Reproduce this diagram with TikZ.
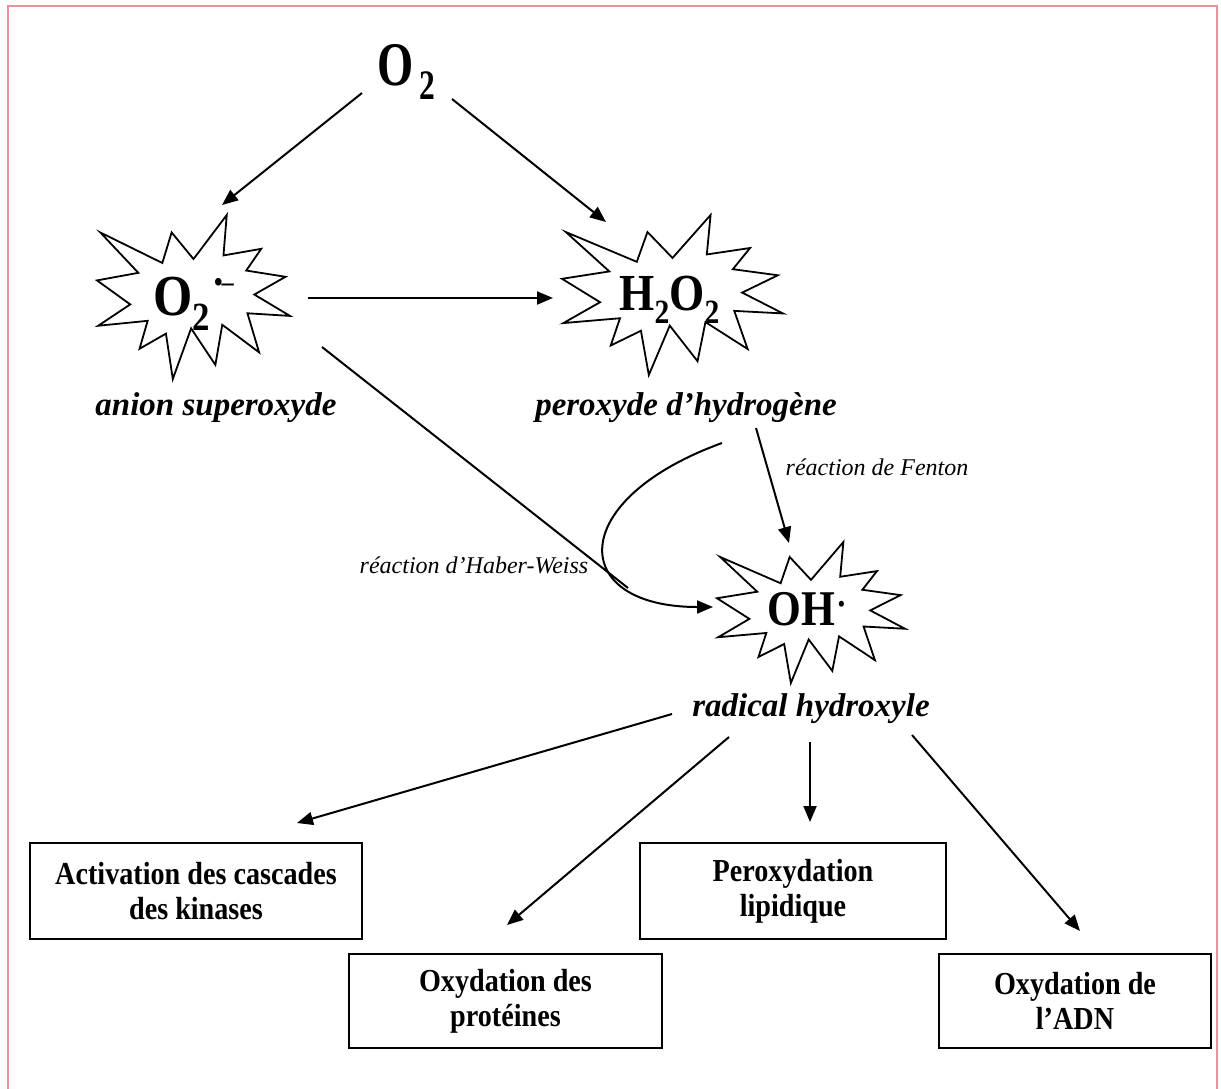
\documentclass[tikz,border=0pt]{standalone}
\usepackage{fontspec}
\setmainfont{Liberation Serif}
\newfontfamily\narrowfont{Liberation Serif}[FakeStretch=0.75]
\newfontfamily\burstfont{Liberation Serif}[FakeStretch=0.87]
\newfontfamily\boxfont{Liberation Serif}[FakeStretch=0.88]
\usetikzlibrary{arrows.meta}
\definecolor{pinkframe}{RGB}{226,150,155}
\tikzset{
  burstline/.style={draw=black,fill=white,line width=0.9pt,line join=miter},
  arr/.style={-{Triangle[length=8pt,width=6.5pt]},line width=1pt},
  plainline/.style={line width=1pt},
  boxst/.style={draw,line width=1pt,align=center,inner sep=0pt,
     font=\boxfont\fontsize{16}{17.5}\selectfont\bfseries},
  lbl/.style={inner sep=0pt,font=\fontsize{16.5}{16.5}\selectfont\bfseries\itshape},
  rxn/.style={inner sep=0pt,font=\fontsize{12}{12}\selectfont\itshape},
  chem/.style={inner sep=0pt,anchor=base west}
}
\newcommand\drawburst[4]{%
\begin{scope}[shift={(#1,#2)},xscale=#3/100,yscale=#4/100]
\path[burstline] (50,26.85) -- (67.23,0) -- (65.53,24.65) -- (85.09,20.63)
 -- (77.32,33.87) -- (97.67,37.67) -- (81.51,48.50) -- (100,61.53)
 -- (77.95,59.92) -- (84.00,83.77) -- (64.91,66.93) -- (61.33,91.38)
 -- (48.76,69.14) -- (39.28,100) -- (35.72,72.35) -- (22.05,81.56)
 -- (26.24,64.52) -- (0.63,67.53) -- (17.23,54.51) -- (0,39.88)
 -- (21.42,35.26) -- (1.71,10.63) -- (33.85,29.26) -- (38.67,10.63) -- cycle;
\end{scope}}
\begin{document}
\begin{tikzpicture}[x=0.5pt,y=-0.5pt]
\useasboundingbox (0,0) rectangle (1221,1088);
\fill[white] (0,0) rectangle (1221,1088);
\draw[pinkframe,line width=1.2pt] (8,1100) -- (8,6) -- (1217,6) -- (1217,1100);

% starbursts
\drawburst{97}{215}{193}{164}
\drawburst{562}{215}{221}{160}
\drawburst{717}{542}{188}{141}

% chemical texts
\node[chem] (o2) at (377,85) {\narrowfont\bfseries\fontsize{31}{31}\selectfont O\kern3pt\raisebox{-7pt}{\fontsize{21}{21}\selectfont 2}};
\node[chem] (sup) at (153,315) {\burstfont\bfseries\fontsize{29}{29}\selectfont O\raisebox{-7.5pt}{\fontsize{20}{20}\selectfont 2}\kern2pt\raisebox{12pt}{\fontsize{14}{14}\selectfont \textbullet\kern-0.5pt\textendash}};
\node[chem] (hp) at (619,310) {\burstfont\bfseries\fontsize{26}{26}\selectfont H\raisebox{-6.5pt}{\fontsize{17}{17}\selectfont 2}O\raisebox{-6.5pt}{\fontsize{17}{17}\selectfont 2}};
\node[chem] (oh) at (767,625) {\burstfont\bfseries\fontsize{25}{25}\selectfont OH\kern1.5pt\raisebox{7pt}{\fontsize{11}{11}\selectfont \textbullet}};

% labels
\node[lbl,anchor=base] (lsup) at (216,415) {anion superoxyde};
\node[lbl,anchor=base] (lhp) at (686,415) {peroxyde d’hydrogène};
\node[lbl,anchor=base] (lrad) at (811,716) {radical hydroxyle};
\node[rxn,anchor=base] (fenton) at (877,475) {réaction de Fenton};
\node[rxn,anchor=base] (haber) at (474,573) {réaction d’Haber-Weiss};

% boxes
\node[boxst,minimum width=166pt,minimum height=48pt] (act) at (196,891) {Activation des cascades\\des kinases};
\node[boxst,minimum width=156.5pt,minimum height=47pt] (prot) at (505.5,1001) {Oxydation des\\protéines};
\node[boxst,minimum width=153pt,minimum height=48pt] (lip) at (793,891) {Peroxydation\\lipidique};
\node[boxst,minimum width=136pt,minimum height=47pt] (adn) at (1075,1001) {Oxydation de\\l’ADN};

% connector end points
\coordinate (aS) at (362,93);  \coordinate (aE) at (222,205);
\coordinate (bS) at (452,99);  \coordinate (bE) at (606,222);
\coordinate (cS) at (308,298); \coordinate (cE) at (553,298);
\coordinate (dS) at (322,347); \coordinate (dE) at (628,588);
\coordinate (eS) at (722,443); \coordinate (eE) at (713,607);
\coordinate (fS) at (756,428); \coordinate (fE) at (789,543);
\coordinate (gS) at (672,714); \coordinate (gE) at (297,823);
\coordinate (hS) at (729,737); \coordinate (hE) at (507,925);
\coordinate (iS) at (810,742); \coordinate (iE) at (810,822);
\coordinate (jS) at (912,735); \coordinate (jE) at (1080,931);

\draw[arr] (aS) -- (aE);
\draw[arr] (bS) -- (bE);
\draw[arr] (cS) -- (cE);
\draw[plainline] (dS) -- (dE);
\draw[arr] (eS) .. controls (565,500) and (568,607) .. (eE);
\draw[arr] (fS) -- (fE);
\draw[arr] (gS) -- (gE);
\draw[arr] (hS) -- (hE);
\draw[arr] (iS) -- (iE);
\draw[arr] (jS) -- (jE);
\end{tikzpicture}
\end{document}
